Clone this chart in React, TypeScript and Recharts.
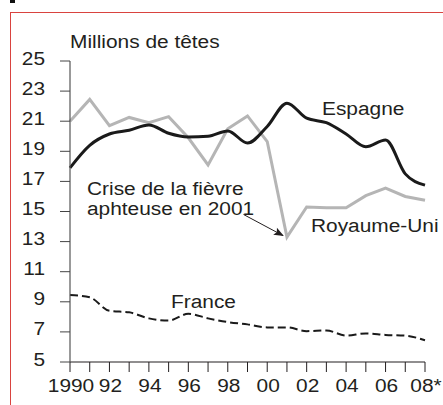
import { LineChart, Line, XAxis, YAxis, ReferenceLine } from 'recharts';

const years = [1990, 1991, 1992, 1993, 1994, 1995, 1996, 1997, 1998, 1999, 2000, 2001, 2002, 2003, 2004, 2005, 2006, 2007, 2008];
const espagne = [17.9, 19.4, 20.15, 20.4, 20.75, 20.2, 19.95, 20.0, 20.35, 19.55, 20.65, 22.2, 21.2, 20.9, 20.15, 19.3, 19.75, 17.5, 16.75];
const royaumeUni = [21.0, 22.45, 20.7, 21.25, 20.9, 21.3, 19.9, 18.1, 20.5, 21.35, 19.65, 13.3, 15.3, 15.25, 15.25, 16.05, 16.55, 16.0, 15.75];
const france = [9.45, 9.3, 8.4, 8.3, 7.9, 7.75, 8.2, 7.9, 7.65, 7.5, 7.3, 7.3, 7.05, 7.1, 6.75, 6.9, 6.8, 6.75, 6.45];
const yTicks = [5, 7, 9, 11, 13, 15, 17, 19, 21, 23, 25];
const xLabels: Record<number, string> = {
  1990: '1990', 1992: '92', 1994: '94', 1996: '96', 1998: '98',
  2000: '00', 2002: '02', 2004: '04', 2006: '06', 2008: '08*',
};

const rows = years.map((y, i) => ({
  year: y,
  espagne: espagne[i],
  royaumeUni: royaumeUni[i],
  france: france[i],
}));

const FONT = '"Liberation Sans", Arial, sans-serif';
const SX = 1.16;

function Wide({ x, y, children, anchor = 'start' }: { x: number; y: number; children: string; anchor?: string }) {
  return (
    <text
      transform={`translate(${x} ${y}) scale(${SX} 1)`}
      fontFamily={FONT}
      fontSize={18}
      fill="#231f20"
      textAnchor={anchor}
    >
      {children}
    </text>
  );
}

const YTick = (props: any) => {
  const { x, y, payload } = props;
  return <Wide x={x} y={y + 3.5} anchor="end">{String(payload.value)}</Wide>;
};

const XTick = (props: any) => {
  const { x, y, payload } = props;
  const label = xLabels[payload.value];
  if (!label) return <g />;
  return <Wide x={x + 1} y={y + 18} anchor="middle">{label}</Wide>;
};

export default function App() {
  return (
    <div style={{ position: 'fixed', left: 0, top: 0, width: 443, height: 405, background: '#fff', overflow: 'hidden' }}>
      <div style={{ position: 'absolute', left: 10, top: 0, width: 5, height: 3, background: '#111' }} />
      <div style={{ position: 'absolute', left: 10, top: 12, width: 460, height: 420, border: '1.5px solid #d9433f', boxSizing: 'border-box' }} />
      <LineChart width={443} height={405} data={rows} margin={{ top: 61, right: 18, bottom: 0, left: 10 }} style={{ position: 'absolute', left: 0, top: 0 }}>
        <defs>
          <marker id="arrow" viewBox="0 0 10 10" refX="9" refY="5" markerWidth="12" markerHeight="10" orient="auto" markerUnits="userSpaceOnUse">
            <path d="M0,1 L10,5 L0,9 L2,5 z" fill="#231f20" />
          </marker>
        </defs>
        <XAxis
          dataKey="year"
          type="number"
          domain={[1990, 2008]}
          ticks={years}
          interval={0}
          height={43}
          tickSize={10}
          tick={<XTick />}
          stroke="#231f20"
          axisLine={{ stroke: '#231f20', strokeWidth: 1.2 }}
        />
        <YAxis
          type="number"
          domain={[5, 25]}
          ticks={yTicks}
          width={60}
          tickSize={10}
          tickMargin={15}
          tick={<YTick />}
          interval={0}
          stroke="#444"
          axisLine={{ stroke: '#555', strokeWidth: 1.2 }}
        />
        <Line type="linear" dataKey="royaumeUni" stroke="#b5b5b5" strokeWidth={3} dot={false} isAnimationActive={false} />
        <Line type="monotone" dataKey="espagne" stroke="#1a1a1a" strokeWidth={3} dot={false} isAnimationActive={false} />
        <Line type="monotone" dataKey="france" stroke="#1a1a1a" strokeWidth={2} strokeDasharray="8 4" dot={false} isAnimationActive={false} />
        <ReferenceLine
          segment={[{ x: 1998.8, y: 14.8 }, { x: 2000.8, y: 13.4 }]}
          stroke="#231f20"
          strokeWidth={1}
          markerEnd="url(#arrow)"
        />
        <Wide x={70} y={48}>Millions de têtes</Wide>
        <Wide x={322} y={115}>Espagne</Wide>
        <Wide x={311} y={232}>Royaume-Uni</Wide>
        <Wide x={87} y={195}>Crise de la fièvre</Wide>
        <Wide x={87} y={215}>aphteuse en 2001</Wide>
        <Wide x={171} y={308}>France</Wide>
      </LineChart>
    </div>
  );
}
